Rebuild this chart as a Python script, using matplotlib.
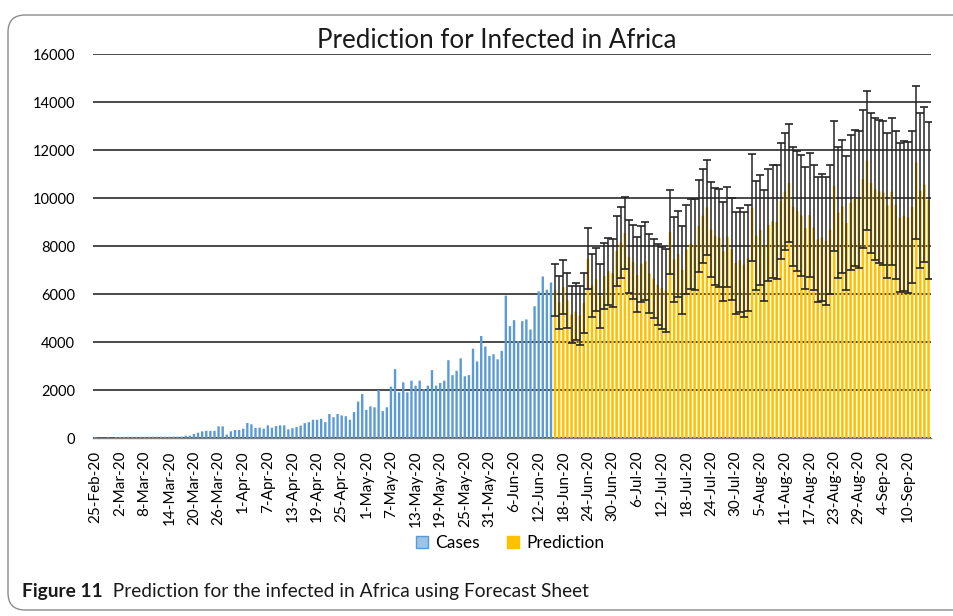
import numpy as np
import pandas as pd
import matplotlib.pyplot as plt
from matplotlib.patches import FancyBboxPatch, Patch

# daily confirmed cases, 25-Feb-20 .. 15-Jun-20
cases = [40, 0, 0, 30, 0, 40, 45, 45, 50, 50, 50, 50, 50, 50, 55, 55, 55, 55, 55, 55,
         60, 60, 97, 100, 167, 222, 278, 300, 300, 300, 486, 486, 140, 280, 333, 333, 389, 625,
         570, 417, 430, 389, 528, 430, 500, 528, 528, 361, 410, 455, 520, 620, 660, 760,
         760, 800, 660, 1000, 870, 1000, 940, 910, 760, 1080, 1520, 1830, 1170, 1320, 1280,
         2000, 1120, 1280, 2140, 2870, 1900, 2320, 1900, 2390, 2180, 2390, 2040, 2180, 2830,
         2180, 2290, 2390, 3240, 2620, 2800, 3320, 2570, 2620, 3720, 3190, 4250, 3810, 3420,
         3490, 3280, 3630, 5930, 4660, 4910, 4040, 4870, 4940, 4520, 5490, 6110, 6730, 6180,
         6480]

# Forecast Sheet output, 16-Jun-20 .. 15-Sep-20
forecast = [6166, 5656, 6285, 5733, 5153, 5268, 5105, 5623, 7474, 6353, 6607, 5916, 6753,
            6951, 6872, 7792, 8143, 8550, 7553, 7349, 6797, 7259, 7374, 6850, 6640, 6385,
            6250, 6157, 8577, 7442, 7668, 7005, 7856, 8082, 8058, 8840, 9260, 9611, 8685,
            8411, 8345, 7779, 8380, 7870, 7290, 7405, 7229, 7488, 9597, 8434, 8674, 8025,
            8876, 9033, 9009, 9874, 10266, 10631, 9635, 9458, 9268, 8757, 9289, 8779, 8269,
            8356, 8221, 8683, 10506, 9399, 9653, 8962, 9799, 9997, 9946, 10783, 11564, 10623,
            10363, 10270, 10218, 9694, 10267, 9716, 9178, 9265, 9199, 9620, 11484, 10308,
            10562, 9912]
lower = [5082, 4548, 5153, 4577, 3973, 4064, 3877, 4371, 6198, 5053, 5283, 4568, 5381, 5555,
         5452, 6348, 6675, 7058, 6037, 5809, 5233, 5671, 5762, 5214, 4980, 4701, 4542, 4425,
         6821, 5662, 5864, 5177, 6004, 6206, 6158, 6916, 7312, 7639, 6689, 6391, 6301, 5711,
         6288, 5754, 5150, 5241, 5041, 5276, 7361, 6174, 6390, 5717, 6544, 6677, 6629, 7470,
         7838, 8179, 7159, 6958, 6744, 6209, 6717, 6183, 5649, 5712, 5553, 5991, 7790, 6659,
         6889, 6174, 6987, 7161, 7086, 7899, 8656, 7691, 7407, 7290, 7214, 6666, 7215, 6640,
         6078, 6141, 6051, 6448, 8288, 7088, 7318, 6644]
upper = [7250, 6764, 7417, 6889, 6333, 6472, 6333, 6875, 8750, 7653, 7931, 7264, 8125, 8347,
         8292, 9236, 9611, 10042, 9069, 8889, 8361, 8847, 8986, 8486, 8300, 8069, 7958, 7889,
         10333, 9222, 9472, 8833, 9708, 9958, 9958, 10764, 11208, 11583, 10681, 10431, 10389,
         9847, 10472, 9986, 9430, 9569, 9417, 9700, 11833, 10694, 10958, 10333, 11208, 11389,
         11389, 12278, 12694, 13083, 12111, 11958, 11792, 11305, 11861, 11375, 10889, 11000,
         10889, 11375, 13222, 12139, 12417, 11750, 12611, 12833, 12806, 13667, 14472, 13555,
         13319, 13250, 13222, 12722, 13319, 12792, 12278, 12389, 12347, 12792, 14680, 13528,
         13806, 13180]

start_date = "2020-02-25"
label_step = 6

dates = pd.date_range(start_date, periods=len(cases) + len(forecast), freq="D")
x_all = np.arange(len(dates))
x_cases = x_all[:len(cases)]
x_pred = x_all[len(cases):]
f_arr = np.array(forecast)
yerr = [f_arr - np.array(lower), np.array(upper) - f_arr]

plt.rcParams['font.family'] = ['Lato', 'DejaVu Sans']

W, H = 954, 616
fig = plt.figure(figsize=(W / 100, H / 100), dpi=100)

# rounded frame around figure
frame = FancyBboxPatch((8 / W, 1 - 610 / H), 990 / W, 595 / H,
                       boxstyle="round,pad=0,rounding_size=0.018",
                       transform=fig.transFigure, fill=False,
                       edgecolor='#8c8c8c', linewidth=1.0, mutation_aspect=W / H)
fig.add_artist(frame)

ax = fig.add_axes([93 / W, 1 - 438 / H, (931 - 93) / W, (438 - 54) / H])

ax.bar(x_cases, cases, width=0.58, color='#5B9BD5', zorder=2, snap=False, linewidth=0)
ax.bar(x_pred, forecast, width=0.62, color='#FFC000', zorder=2, snap=False, linewidth=0)
ax.errorbar(x_pred, forecast, yerr=yerr, fmt='none', ecolor='#262626',
            elinewidth=1.1, capsize=3.2, capthick=1.2, zorder=3)

ax.set_xlim(-0.6, len(dates) - 0.4)
ax.set_ylim(0, 16000)
ax.set_yticks(np.arange(0, 16001, 2000))
ax.set_yticklabels([str(v) for v in range(0, 16001, 2000)], fontsize=10.5)
ax.grid(axis='y', color='#2b2b2b', linewidth=1.2, zorder=0)
ax.set_axisbelow(True)

tick_pos = x_all[::label_step]
tick_lab = [f"{d.day}-{d.strftime('%b-%y')}" for d in dates[::label_step]]
ax.set_xticks(tick_pos)
ax.set_xticklabels(tick_lab, rotation=90, fontsize=11)
ax.tick_params(axis='both', length=0)
ax.tick_params(axis='y', pad=13)
ax.tick_params(axis='x', pad=9)

for s in ['top', 'right', 'left']:
    ax.spines[s].set_visible(False)
ax.spines['bottom'].set_color('#7f7f7f')
ax.spines['bottom'].set_linewidth(1.0)

fig.text(497 / W, 1 - 41 / H, 'Prediction for Infected in Africa',
         ha='center', va='center', fontsize=18.6, color='#1a1a1a')

handles = [Patch(facecolor='#9DC3E6', edgecolor='#5B9BD5', label='Cases'),
           Patch(facecolor='#FFC000', edgecolor='#FFC000', label='Prediction')]
fig.legend(handles=handles, loc='center', bbox_to_anchor=(510 / W, 1 - 543 / H),
           ncol=2, frameon=False, fontsize=12.5, handlelength=0.7, handleheight=0.7,
           handletextpad=0.4, columnspacing=1.6)

t1 = fig.text(22 / W, 1 - 591 / H, 'Figure 11', fontsize=13.8, fontweight='bold',
              va='center', ha='left', color='#1a1a1a')
ax.annotate('  Prediction for the infected in Africa using Forecast Sheet',
            xy=(1, 0.5), xycoords=t1, va='center', ha='left', fontsize=13.8,
            color='#1a1a1a', annotation_clip=False)

fig.savefig('out.png', dpi=100)
